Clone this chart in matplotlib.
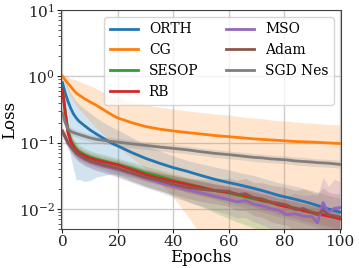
import matplotlib
matplotlib.use("Agg")
import matplotlib.pyplot as plt

plt.rcParams['font.family'] = ['DejaVu Serif']
plt.rcParams['mathtext.fontset'] = 'dejavuserif'

E = [0,1,2,3,4,5,6,8,10,12,15,18,20,25,30,35,40,45,50,55,60,63,66,69,72,75,78,81,84,87,90,92,94,96,98,100]

ORTH = [0.80,0.56,0.42,0.33,0.27,0.235,0.21,0.18,0.155,0.137,0.115,0.097,0.089,0.071,0.058,0.049,0.042,0.037,0.032,0.028,0.025,0.0235,0.022,0.0205,0.019,0.0175,0.016,0.015,0.014,0.013,0.012,0.0113,0.0106,0.0100,0.0095,0.0090]
ORTH_lo = [0.70,0.30,0.10,0.060,0.040,0.027,0.028,0.026,0.027,0.030,0.032,0.034,0.033,0.030,0.027,0.024,0.021,0.018,0.016,0.014,0.012,0.0112,0.0104,0.0097,0.009,0.0083,0.0077,0.0071,0.0066,0.0061,0.0056,0.0053,0.005,0.0047,0.0044,0.0042]
ORTH_hi = [0.90,0.80,0.68,0.56,0.48,0.42,0.38,0.32,0.28,0.24,0.20,0.17,0.155,0.12,0.092,0.076,0.063,0.054,0.048,0.043,0.039,0.036,0.034,0.032,0.0295,0.027,0.025,0.0235,0.022,0.0205,0.019,0.018,0.017,0.016,0.0152,0.0145]

CG = [1.0,0.88,0.78,0.70,0.62,0.56,0.52,0.46,0.41,0.37,0.31,0.26,0.235,0.20,0.175,0.16,0.15,0.142,0.135,0.128,0.123,0.12,0.117,0.114,0.112,0.11,0.108,0.106,0.104,0.103,0.102,0.101,0.100,0.099,0.098,0.097]
CG_lo = [0.92,0.75,0.60,0.50,0.42,0.36,0.32,0.26,0.21,0.17,0.13,0.10,0.085,0.06,0.04,0.025,0.015,0.008,0.004,0.002,0.001,0.001,0.001,0.001,0.001,0.001,0.001,0.001,0.001,0.001,0.001,0.001,0.001,0.001,0.001,0.001]
CG_hi = [1.1,1.05,0.98,0.93,0.90,0.88,0.84,0.78,0.72,0.66,0.57,0.51,0.48,0.42,0.37,0.34,0.32,0.30,0.285,0.27,0.26,0.25,0.24,0.235,0.23,0.22,0.215,0.21,0.205,0.20,0.197,0.194,0.19,0.188,0.186,0.185]

SESOP = [0.66,0.30,0.15,0.11,0.092,0.081,0.074,0.066,0.061,0.057,0.053,0.049,0.047,0.041,0.035,0.031,0.027,0.024,0.0215,0.019,0.0175,0.0163,0.0152,0.0142,0.0133,0.0125,0.0117,0.011,0.0103,0.0096,0.009,0.0087,0.0083,0.008,0.0077,0.0074]
SESOP_lo = [0.55,0.20,0.10,0.080,0.068,0.060,0.055,0.050,0.046,0.043,0.039,0.035,0.033,0.027,0.022,0.019,0.016,0.013,0.011,0.0088,0.0072,0.0064,0.0058,0.0052,0.0047,0.0042,0.0038,0.0034,0.003,0.0027,0.0024,0.0022,0.002,0.0018,0.0017,0.0016]
SESOP_hi = [0.75,0.40,0.19,0.14,0.115,0.10,0.092,0.082,0.076,0.071,0.066,0.061,0.058,0.051,0.044,0.039,0.034,0.030,0.027,0.024,0.022,0.0205,0.019,0.0178,0.0167,0.0157,0.0147,0.0138,0.013,0.0121,0.0113,0.0109,0.0104,0.01,0.0097,0.0093]

RB = [0.65,0.28,0.14,0.105,0.087,0.076,0.07,0.063,0.058,0.055,0.051,0.048,0.046,0.039,0.033,0.029,0.026,0.0235,0.021,0.019,0.0178,0.0168,0.0158,0.0148,0.0135,0.0128,0.0115,0.0108,0.0102,0.0094,0.0088,0.0085,0.0081,0.0078,0.0075,0.0071]
RB_lo = [0.58,0.22,0.11,0.085,0.071,0.062,0.058,0.052,0.048,0.045,0.042,0.039,0.037,0.031,0.026,0.023,0.020,0.018,0.016,0.0145,0.0135,0.0125,0.0117,0.011,0.0098,0.0093,0.0083,0.0078,0.0073,0.0067,0.0062,0.006,0.0057,0.0055,0.0052,0.005]
RB_hi = [0.72,0.36,0.18,0.13,0.107,0.093,0.085,0.076,0.07,0.066,0.061,0.057,0.055,0.047,0.040,0.035,0.032,0.029,0.026,0.0235,0.022,0.021,0.0198,0.0186,0.017,0.0161,0.0145,0.0136,0.0129,0.0119,0.0112,0.0108,0.0103,0.0099,0.0096,0.0091]

MSO = [0.14,0.12,0.097,0.086,0.076,0.068,0.063,0.056,0.051,0.048,0.044,0.041,0.039,0.034,0.029,0.025,0.022,0.0195,0.0175,0.0155,0.0138,0.0128,0.0134,0.0118,0.0112,0.0102,0.0096,0.0082,0.0085,0.0078,0.0077,0.0062,0.0125,0.0088,0.0102,0.0105]
MSO_lo = [0.12,0.10,0.08,0.07,0.062,0.055,0.051,0.045,0.041,0.038,0.035,0.032,0.030,0.025,0.021,0.018,0.015,0.013,0.011,0.0095,0.0082,0.0073,0.0075,0.0064,0.0058,0.0051,0.0046,0.0038,0.0039,0.0034,0.0033,0.0026,0.0035,0.0035,0.0038,0.0037]
MSO_hi = [0.16,0.14,0.115,0.103,0.091,0.082,0.076,0.068,0.062,0.058,0.054,0.05,0.048,0.043,0.038,0.034,0.031,0.028,0.026,0.024,0.022,0.021,0.023,0.02,0.0195,0.018,0.0175,0.016,0.017,0.016,0.0165,0.016,0.03,0.022,0.028,0.026]

ADAM = [0.15,0.125,0.10,0.088,0.078,0.07,0.065,0.058,0.053,0.05,0.046,0.043,0.041,0.035,0.03,0.027,0.0235,0.0212,0.0198,0.019,0.0185,0.0165,0.017,0.0148,0.0142,0.0128,0.0122,0.0115,0.0098,0.0102,0.0088,0.0082,0.0096,0.0082,0.0079,0.0076]
ADAM_lo = [0.13,0.105,0.083,0.072,0.063,0.057,0.052,0.046,0.042,0.039,0.036,0.033,0.031,0.026,0.022,0.019,0.0165,0.0145,0.013,0.012,0.011,0.0095,0.0095,0.008,0.0075,0.0065,0.006,0.0057,0.0045,0.0048,0.004,0.0036,0.0042,0.0035,0.0034,0.0032]
ADAM_hi = [0.17,0.15,0.12,0.105,0.094,0.085,0.079,0.071,0.065,0.062,0.057,0.054,0.052,0.045,0.039,0.036,0.032,0.029,0.028,0.028,0.029,0.027,0.029,0.025,0.025,0.023,0.022,0.021,0.019,0.02,0.018,0.017,0.021,0.018,0.017,0.017]

SGD = [0.28,0.20,0.16,0.148,0.142,0.137,0.133,0.125,0.118,0.113,0.108,0.104,0.102,0.096,0.091,0.086,0.082,0.078,0.073,0.069,0.066,0.064,0.062,0.06,0.059,0.057,0.056,0.055,0.053,0.052,0.051,0.050,0.0495,0.049,0.048,0.047]
SGD_lo = [0.22,0.17,0.14,0.13,0.125,0.12,0.117,0.11,0.104,0.1,0.095,0.091,0.089,0.084,0.079,0.075,0.071,0.068,0.064,0.06,0.057,0.056,0.054,0.052,0.051,0.05,0.049,0.048,0.046,0.045,0.044,0.0435,0.043,0.0425,0.042,0.041]
SGD_hi = [0.36,0.24,0.185,0.17,0.162,0.156,0.151,0.142,0.134,0.129,0.123,0.119,0.116,0.109,0.104,0.098,0.094,0.089,0.083,0.079,0.075,0.073,0.071,0.069,0.067,0.065,0.064,0.063,0.061,0.06,0.058,0.057,0.0565,0.056,0.055,0.054]

series = [
    ("ORTH", ORTH, ORTH_lo, ORTH_hi, "tab:blue"),
    ("CG", CG, CG_lo, CG_hi, "tab:orange"),
    ("SESOP", SESOP, SESOP_lo, SESOP_hi, "tab:green"),
    ("RB", RB, RB_lo, RB_hi, "tab:red"),
    ("MSO", MSO, MSO_lo, MSO_hi, "tab:purple"),
    ("Adam", ADAM, ADAM_lo, ADAM_hi, "tab:brown"),
    ("SGD Nes", SGD, SGD_lo, SGD_hi, "tab:gray"),
]

fig = plt.figure(figsize=(3.59, 2.68), dpi=100)
ax = fig.add_axes([0.170, 0.1455, 0.780, 0.8175])
for name, m, lo, hi, c in series:
    ax.plot(E, m, color=c, lw=2, label=name)
    ax.fill_between(E, lo, hi, color=c, alpha=0.2, lw=0)

ax.set_yscale('log')
ax.set_ylim(0.005, 10)
ax.set_xlim(-0.5, 100.5)
ax.set_xticks([0, 20, 40, 60, 80, 100])
ax.grid(True, which='major', color='#cccccc', lw=1)
ax.set_axisbelow(True)
ax.tick_params(which='major', labelsize=11, colors='#222222', length=3, pad=1.5)
ax.tick_params(which='minor', length=2, colors='#444444')
ax.set_xlabel("Epochs", fontsize=12, labelpad=0)
ax.set_ylabel("Loss", fontsize=12, labelpad=0)
for s in ax.spines.values():
    s.set_color('#444444')
ax.legend(ncol=2, loc='upper right', fontsize=10)
fig.savefig("out.png", dpi=100)
